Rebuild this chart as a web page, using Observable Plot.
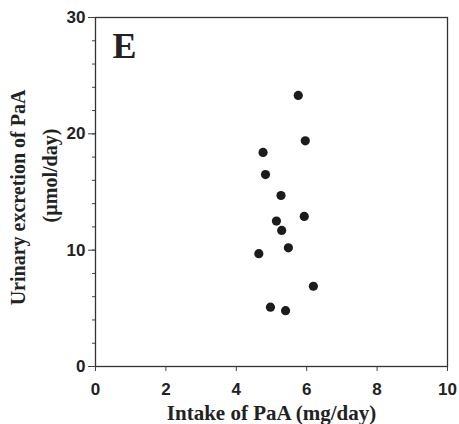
<!DOCTYPE html>
<html>
<head>
<meta charset="utf-8">
<script src="https://cdn.jsdelivr.net/npm/d3@7"></script>
<script src="https://cdn.jsdelivr.net/npm/@observablehq/plot@0.6"></script>
<style>
  html, body { margin: 0; padding: 0; background: #fff; }
  #chart svg { display: block; }
</style>
</head>
<body>
<div id="chart"></div>
<script>
// Intake of PaA (mg/day) vs urinary excretion of PaA (µmol/day)
const intake    = [5.76, 5.96, 4.76, 4.83, 5.27, 5.93, 5.14, 5.29, 5.48, 4.64, 6.19, 4.97, 5.40];
const excretion = [23.3, 19.4, 18.4, 16.5, 14.7, 12.9, 12.5, 11.7, 10.2, 9.7, 6.9, 5.1, 4.8];
const xTicks = [0, 2, 4, 6, 8, 10];
const yMajorTicks = [0, 10, 20, 30];
const yMinorTicks = [0, 2, 4, 6, 8, 10, 12, 14, 16, 18, 20, 22, 24, 26, 28, 30];
const panelLabel = "E";
const xLabel = "Intake of PaA (mg/day)";
const yLabel1 = "Urinary excretion of PaA";
const yLabel2 = "(\u00b5mol/day)";

const data = intake.map((x, i) => ({x, y: excretion[i]}));

const sans = "'Liberation Sans', Arial, sans-serif";
const serif = "'Liberation Serif', 'Times New Roman', serif";
const ink = "#222";

const chart = Plot.plot({
  width: 459,
  height: 424,
  marginLeft: 95,
  marginRight: 12,
  marginTop: 17,
  marginBottom: 58,
  style: {fontFamily: sans, fontSize: "17px", fontWeight: "bold", color: ink, background: "#fff"},
  x: {domain: [0, 10]},
  y: {domain: [0, 30]},
  marks: [
    Plot.axisY({ticks: yMinorTicks, tickSize: 3, text: null, label: null, stroke: "#444"}),
    Plot.axisY({ticks: yMajorTicks, tickSize: 7, tickPadding: 3, label: null, stroke: "#444", fill: ink}),
    Plot.axisX({ticks: xTicks, tickSize: 5, tickPadding: 11, label: null, stroke: "#444", fill: ink}),
    Plot.frame({stroke: "#333", strokeWidth: 1.3}),
    Plot.dot(data, {x: "x", y: "y", r: 4.6, fill: "#1c1c1c", stroke: "none"}),
    Plot.text([panelLabel], {frameAnchor: "top-left", text: d => d, textAnchor: "start", lineAnchor: "top",
      dx: 17, dy: 15, fontFamily: serif, fontSize: 36, fontWeight: "bold", fill: ink}),
    Plot.text([xLabel], {frameAnchor: "bottom", text: d => d, textAnchor: "middle", lineAnchor: "top",
      dy: 39, fontFamily: serif, fontSize: 21, fontWeight: "bold", fill: ink}),
    Plot.text([yLabel1], {frameAnchor: "left", text: d => d, rotate: -90, textAnchor: "middle", lineAnchor: "middle",
      dx: -76.5, dy: 5.5, fontFamily: serif, fontSize: 20, fontWeight: "bold", fill: ink}),
    Plot.text([yLabel2], {frameAnchor: "left", text: d => d, rotate: -90, textAnchor: "middle", lineAnchor: "middle",
      dx: -45, dy: -16.5, fontFamily: serif, fontSize: 20, fontWeight: "bold", fill: ink})
  ]
});
document.getElementById("chart").appendChild(chart);
</script>
</body>
</html>
